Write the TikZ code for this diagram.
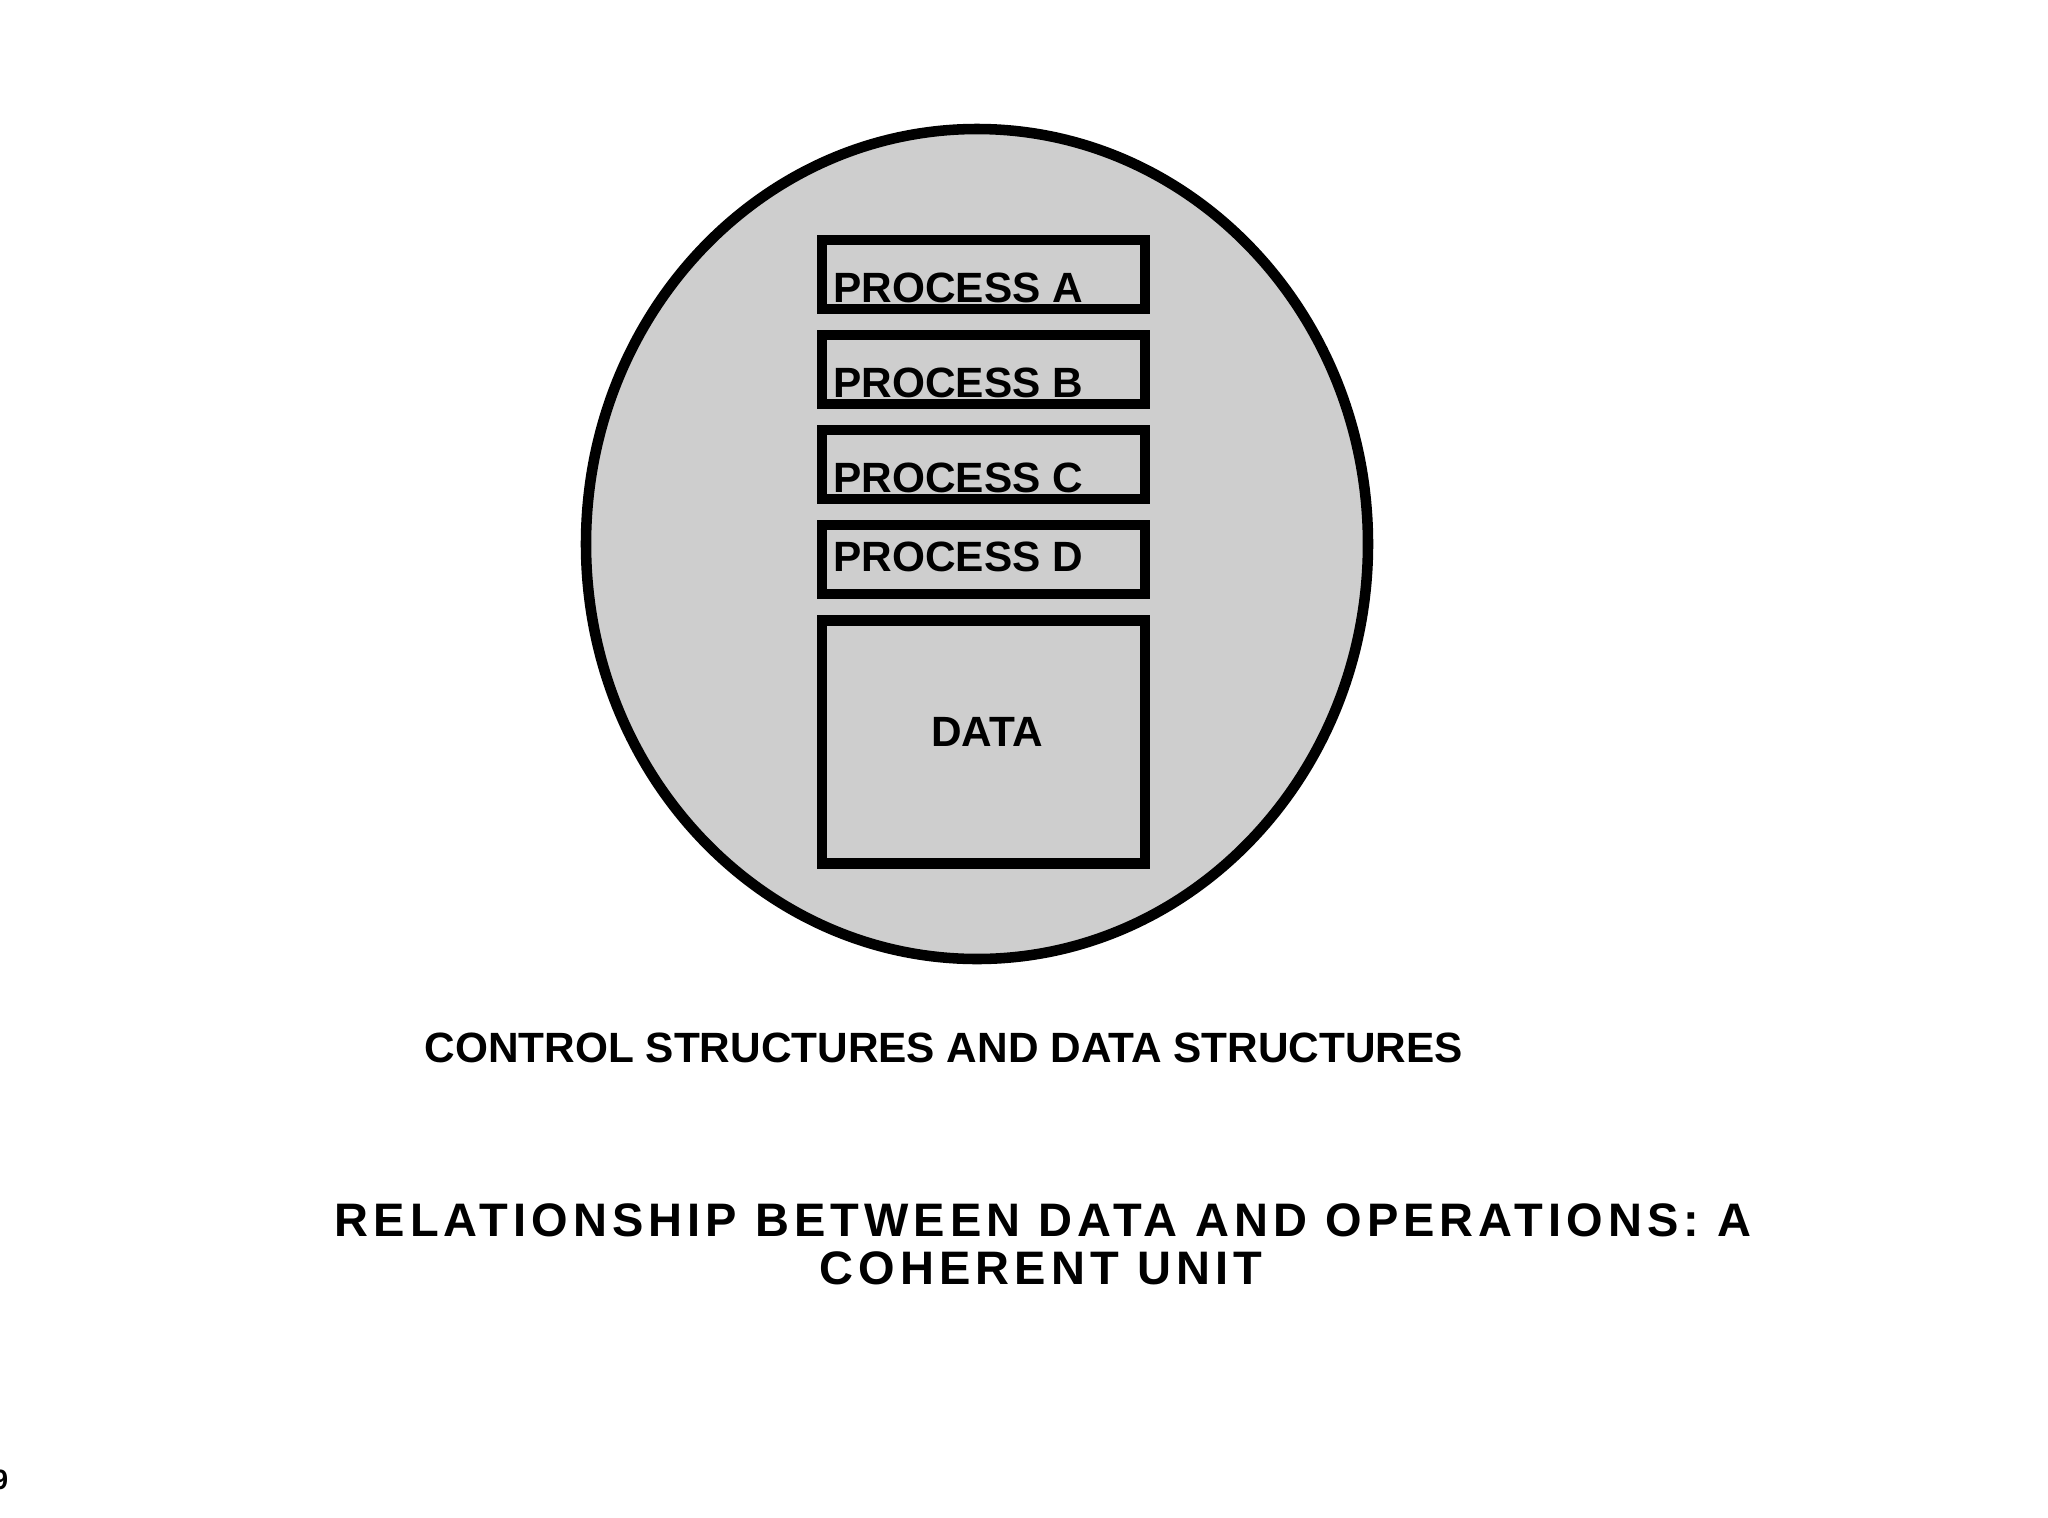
\documentclass[tikz,border=0pt]{standalone}
\usepackage{fontspec}
\setmainfont{Liberation Sans}
\newfontfamily\titlefont[LetterSpace=10.8]{Liberation Sans}
\usepackage{xcolor}
\definecolor{unitgray}{RGB}{206, 206, 206}
\usetikzlibrary{shapes.geometric,positioning}

\tikzset{
    unitcircle/.style={ellipse, draw=black, line width=3pt, fill=unitgray, inner sep=0pt, minimum width=7.82cm, minimum height=8.30cm},
    procbox/.style={rectangle, draw=black, line width=3pt, inner sep=0pt, minimum width=3.23cm, minimum height=0.69cm},
    boxlabel/.style={anchor=base west, inner sep=0pt},
}

\begin{document}
\begin{tikzpicture}[node distance=0.95cm, every node/.style={font=\bfseries\fontsize{12.05}{14}\selectfont}]
    \fill[white] (0,0) rectangle (20.48,-15.18);
    \useasboundingbox (0,0) rectangle (20.48,-15.18);

    \node[unitcircle] (unit) at (9.77,-5.44) {};

    \node[procbox] (procA) at (9.835,-2.745) {};
    \node[procbox, below of=procA] (procB) {};
    \node[procbox, below of=procB] (procC) {};
    \node[procbox, below of=procC] (procD) {};
    \node[procbox, below of=procD, node distance=1.825cm, minimum height=2.43cm] (data) {};

    \node[boxlabel] (labA) at ([xshift=0.16cm, yshift=0.12cm]procA.south west) {PROCESS A};
    \node[boxlabel] (labB) at ([xshift=0.16cm, yshift=0.12cm]procB.south west) {PROCESS B};
    \node[boxlabel] (labC) at ([xshift=0.16cm, yshift=0.12cm]procC.south west) {PROCESS C};
    \node[boxlabel] (labD) at ([xshift=0.16cm, yshift=0.28cm]procD.south west) {PROCESS D};
    \node[anchor=base, inner sep=0pt] (labData) at (9.87,-7.46) {DATA};

    \node[anchor=base west, inner sep=0pt] (caption) at (4.24,-10.62) {CONTROL STRUCTURES AND DATA STRUCTURES};

    \node[anchor=base, inner sep=0pt, font=\titlefont\bfseries\fontsize{13.37}{15}\selectfont] (titleA) at (10.43,-12.36) {RELATIONSHIP BETWEEN DATA AND OPERATIONS: A};
    \node[anchor=base, inner sep=0pt, font=\titlefont\bfseries\fontsize{13.37}{15}\selectfont] (titleB) at (10.41,-12.84) {COHERENT UNIT};

    \node[anchor=base west, inner sep=0pt, font=\bfseries\fontsize{7.97}{9}\selectfont] (pagenum) at (-0.08,-14.89) {9};
\end{tikzpicture}
\end{document}
